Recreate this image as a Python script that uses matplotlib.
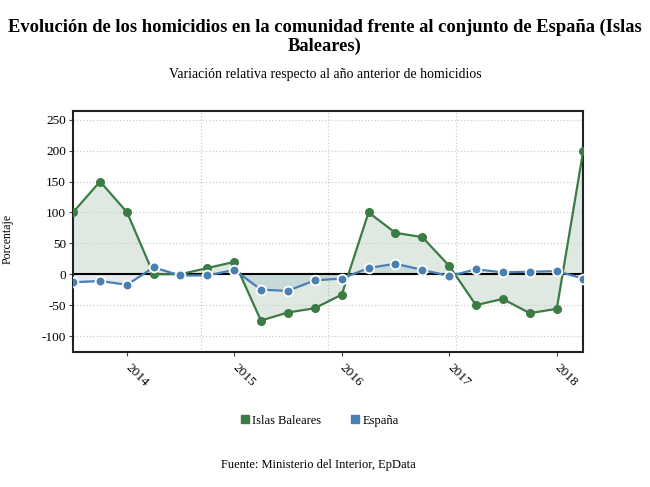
import numpy as np
import pandas as pd
import matplotlib
matplotlib.use("Agg")
import matplotlib.pyplot as plt
import matplotlib.dates as mdates
from matplotlib.lines import Line2D

plt.rcParams['font.family'] = ['Liberation Serif', 'DejaVu Serif']
plt.rcParams['axes.unicode_minus'] = False

# %% data (quarterly, relative change vs previous year)
quarters = ['2013-07-01', '2013-10-01', '2014-01-01', '2014-04-01',
            '2014-07-01', '2014-10-01', '2015-01-01', '2015-04-01',
            '2015-07-01', '2015-10-01', '2016-01-01', '2016-04-01',
            '2016-07-01', '2016-10-01', '2017-01-01', '2017-04-01',
            '2017-07-01', '2017-10-01', '2018-01-01', '2018-04-01']
baleares = [100, 150, 100, 0, 0, 10, 20, -75, -62, -55,
            -33, 100, 67, 60, 13, -50, -40, -63, -56, 200]
espana = [-13, -11, -17, 11, -2, -2, 7, -25, -27, -10,
          -7, 10, 17, 7, -3, 8, 3, 4, 5, -7]
year_ticks = ['2014-01-01', '2015-01-01', '2016-01-01', '2017-01-01', '2018-01-01']
year_labels = ['2014', '2015', '2016', '2017', '2018']
y_ticks = [-100, -50, 0, 50, 100, 150, 200, 250]

green = '#3b7c45'
blue = '#4a7fb2'

x = mdates.date2num(pd.to_datetime(quarters))
xt = mdates.date2num(pd.to_datetime(year_ticks))

fig = plt.figure(figsize=(6.5, 4.87), dpi=100)
ax = fig.add_axes([0.1123, 0.277, 0.785, 0.495])

ax.fill_between(x, baleares, 0, color=green, alpha=0.16, lw=0)
ax.fill_between(x, espana, 0, color=blue, alpha=0.15, lw=0)
ax.axhline(0, color='black', lw=1.5, zorder=2)
ax.plot(x, baleares, color=green, lw=1.6, marker='o', ms=5.5,
        mfc=green, mec=green, zorder=3)
ax.plot(x, espana, color=blue, lw=1.6, marker='o', ms=7,
        mfc=blue, mec='white', mew=1.3, zorder=4)

ax.set_xlim(x[0], x[-1])
ax.set_ylim(-126, 264)
ax.set_yticks(y_ticks)
ax.set_yticklabels([str(v) for v in y_ticks])
ax.set_xticks(xt)
ax.set_xticklabels(year_labels, rotation=-45, ha='left', va='center',
                   rotation_mode='anchor')
ax.tick_params(axis='both', labelsize=9.5, length=3, color='#444444',
               pad=2)
ax.tick_params(axis='x', pad=7)

ax.grid(axis='y', color='#cccccc', ls=':', lw=0.9)
for gx in np.linspace(x[0], x[-1], 5)[1:-1]:
    ax.axvline(gx, color='#cccccc', ls=':', lw=0.9, zorder=0)

for sp in ax.spines.values():
    sp.set_color('#222222')
    sp.set_linewidth(1.5)

fig.text(0.5, 0.925, 'Evolución de los homicidios en la comunidad frente al conjunto de España (Islas\nBaleares)',
         ha='center', va='center', fontsize=13.3, fontweight='bold',
         linespacing=1.12)
fig.text(0.5, 0.848, 'Variación relativa respecto al año anterior de homicidios',
         ha='center', va='center', fontsize=9.9)
fig.text(0.011, 0.51, 'Porcentaje', rotation=90, ha='center', va='center',
         fontsize=8.5)

handles = [Line2D([], [], ls='none', marker='s', ms=6, color=green),
           Line2D([], [], ls='none', marker='s', ms=6, color=blue)]
fig.legend(handles, ['Islas Baleares', 'España'], loc='center',
           bbox_to_anchor=(0.49, 0.136), ncol=2, frameon=False,
           fontsize=9, handletextpad=0.1, columnspacing=2.2,
           handlelength=1.0)

fig.text(0.49, 0.045, 'Fuente: Ministerio del Interior, EpData',
         ha='center', va='center', fontsize=9)

fig.savefig('out.png', dpi=100)
